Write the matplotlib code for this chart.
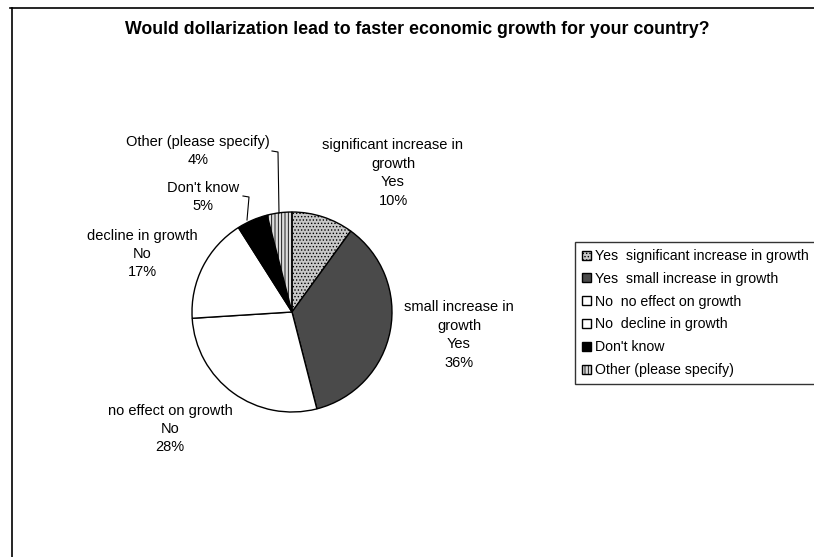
import matplotlib
matplotlib.use('Agg')
import matplotlib.pyplot as plt
from matplotlib.lines import Line2D
from matplotlib.patches import Patch

plt.rcParams['font.family'] = ['Liberation Sans', 'DejaVu Sans']
plt.rcParams['hatch.color'] = '#8a8a8a'
plt.rcParams['hatch.linewidth'] = 0.6

title = "Would dollarization lead to faster economic growth for your country?"
categories = ["Yes  significant increase in growth", "Yes  small increase in growth",
              "No  no effect on growth", "No  decline in growth",
              "Don't know", "Other (please specify)"]
values = [10, 36, 28, 17, 5, 4]
slice_labels = ["significant increase in\ngrowth\nYes\n10%",
                "small increase in\ngrowth\nYes\n36%",
                "no effect on growth\nNo\n28%",
                "decline in growth\nNo\n17%",
                "Don't know\n5%",
                "Other (please specify)\n4%"]
colors = ['#c8c8c8', '#4a4a4a', 'white', 'white', 'black', '#dcdcdc']
hatches = ['.....', None, None, None, None, '|||||']

W, H = 814, 557
fig = plt.figure(figsize=(W / 100, H / 100), dpi=100)
ax = fig.add_axes([0, 0, 1, 1])

wedges, _ = ax.pie(values, colors=colors, startangle=90, counterclock=False,
                   center=(292, H - 312), radius=100,
                   wedgeprops=dict(edgecolor='black', linewidth=1.0))
for w, h in zip(wedges, hatches):
    if h:
        w.set_hatch(h)

ax.set_xlim(0, W)
ax.set_ylim(0, H)
ax.set_aspect('equal')
ax.axis('off')

# label positions (pixel coords from top-left)
label_pos = [(393, 173), (459, 335), (170, 429), (142, 254), (203, 197), (198, 151)]
for txt, (x, y) in zip(slice_labels, label_pos):
    ax.text(x, H - y, txt, ha='center', va='center', fontsize=10.5, linespacing=1.4)

# leader lines
ax.plot([272, 278, 279], [H - 151, H - 152, H - 213], color='black', lw=0.8)
ax.plot([243, 249, 247], [H - 196, H - 197, H - 220], color='black', lw=0.8)

ax.text(417, H - 30, title, ha='center', va='center', fontsize=12.8, fontweight='bold')

# chart border
fig.add_artist(Line2D([12 / W, 12 / W], [0, 1 - 8 / H], color='black', lw=1.2))
fig.add_artist(Line2D([10 / W, 1], [1 - 8 / H, 1 - 8 / H], color='black', lw=1.2))

handles = [Patch(facecolor=c, edgecolor='black', hatch=h) for c, h in zip(colors, hatches)]
leg = fig.legend(handles, categories, loc='upper left',
                 bbox_to_anchor=(575 / W, 1 - 242 / H), bbox_transform=fig.transFigure,
                 borderaxespad=0, fontsize=10.2, handlelength=0.6, handleheight=0.6,
                 handletextpad=0.3, labelspacing=0.62, borderpad=0.5,
                 fancybox=False, frameon=True)
leg.get_frame().set_edgecolor('black')
leg.get_frame().set_linewidth(1.0)

fig.savefig('out.png', dpi=100)
